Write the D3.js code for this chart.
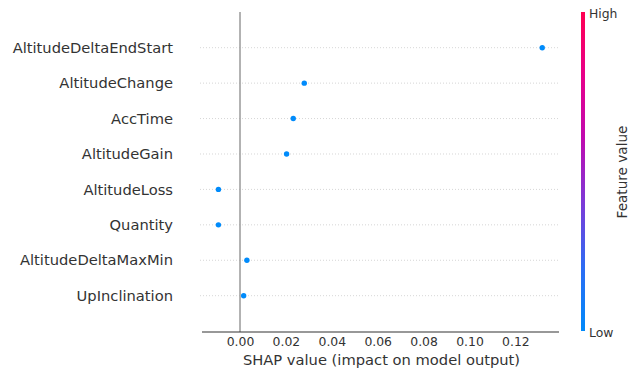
<!DOCTYPE html>
<html>
<head>
<meta charset="utf-8">
<script src="https://cdn.jsdelivr.net/npm/d3@7"></script>
<style>
    body { margin: 0; background: #fff; }
    svg { display: block; font-family: 'DejaVu Sans', sans-serif; }
</style>
</head>
<body>
<div class="chart"></div>
<script>
    const features = ['AltitudeDeltaEndStart', 'AltitudeChange', 'AccTime', 'AltitudeGain',
        'AltitudeLoss', 'Quantity', 'AltitudeDeltaMaxMin', 'UpInclination'];
    const shapValues = [0.1317, 0.0280, 0.0232, 0.0203, -0.0094, -0.0094, 0.0030, 0.0016];
    const xTicks = [0, 0.02, 0.04, 0.06, 0.08, 0.10, 0.12];
    const colorStops = ['#008afa', '#2d6cf4', '#7c3ad8', '#bf0bb0', '#e8008a', '#ff0052'];

    const width = 630, height = 374;
    const plot = { left: 202, right: 559, top: 12, bottom: 332 };

    const svg = d3.select('.chart').append('svg').attr('width', width).attr('height', height);

    const x = d3.scaleLinear().domain([-0.01656, 0.139]).range([plot.left, plot.right]);
    // rows are spread like shap does: first row on top, one unit each
    const y = d3.scalePoint().domain(features).range([47.7, 295.7]);

    // dotted row guides
    svg.append('g').selectAll('line').data(features).enter().append('line')
        .attr('x1', plot.left - 2).attr('x2', plot.right)
        .attr('y1', function (d) { return y(d); })
        .attr('y2', function (d) { return y(d); })
        .attr('stroke', '#ccc').attr('stroke-width', 0.8).attr('stroke-dasharray', '1,2');

    // zero line
    svg.append('line')
        .attr('x1', x(0)).attr('x2', x(0)).attr('y1', plot.top).attr('y2', plot.bottom)
        .attr('stroke', '#999').attr('stroke-width', 1.5);

    // x axis
    const xAxis = d3.axisBottom(x).tickValues(xTicks).tickSize(0).tickPadding(5)
        .tickFormat(d3.format('.2f'));
    svg.append('g').attr('transform', 'translate(0,' + plot.bottom + ')').call(xAxis)
        .call(function (g) {
            g.select('.domain').attr('stroke', '#333').attr('stroke-width', 1.2)
                .attr('d', 'M' + plot.left + ',0H' + plot.right);
            g.selectAll('text').style('font-size', '12.4px').attr('fill', '#333')
                .style('font-family', 'DejaVu Sans');
        });

    svg.append('text').text('SHAP value (impact on model output)')
        .attr('x', (plot.left + plot.right) / 2 + 1).attr('y', 365)
        .attr('text-anchor', 'middle').style('font-size', '14.7px').attr('fill', '#333');

    // feature labels
    svg.append('g').selectAll('text').data(features).enter().append('text')
        .text(function (d) { return d; })
        .attr('x', 173)
        .attr('y', function (d) { return y(d); })
        .attr('dy', '0.35em')
        .attr('text-anchor', 'end')
        .style('font-size', '14.7px').attr('fill', '#333');

    // dots
    svg.append('g').selectAll('circle').data(features).enter().append('circle')
        .attr('cx', function (d, i) { return x(shapValues[i]); })
        .attr('cy', function (d) { return y(d); })
        .attr('r', 2.7)
        .attr('fill', '#008bfb');

    // colour bar
    const grad = svg.append('defs').append('linearGradient').attr('id', 'cbar')
        .attr('x1', 0).attr('y1', 1).attr('x2', 0).attr('y2', 0);
    grad.selectAll('stop').data(colorStops).enter().append('stop')
        .attr('offset', function (d, i) { return i / (colorStops.length - 1); })
        .attr('stop-color', function (d) { return d; });

    svg.append('rect').attr('x', 581).attr('y', 12).attr('width', 4).attr('height', 319)
        .attr('fill', 'url(#cbar)');

    svg.append('text').text('High').attr('x', 589).attr('y', 17.5)
        .style('font-size', '12.4px').attr('fill', '#333');
    svg.append('text').text('Low').attr('x', 589).attr('y', 336.5)
        .style('font-size', '12.4px').attr('fill', '#333');
    svg.append('text').text('Feature value')
        .attr('transform', 'translate(627,172) rotate(-90)')
        .attr('text-anchor', 'middle').style('font-size', '13.6px').attr('fill', '#333');
</script>
</body>
</html>
